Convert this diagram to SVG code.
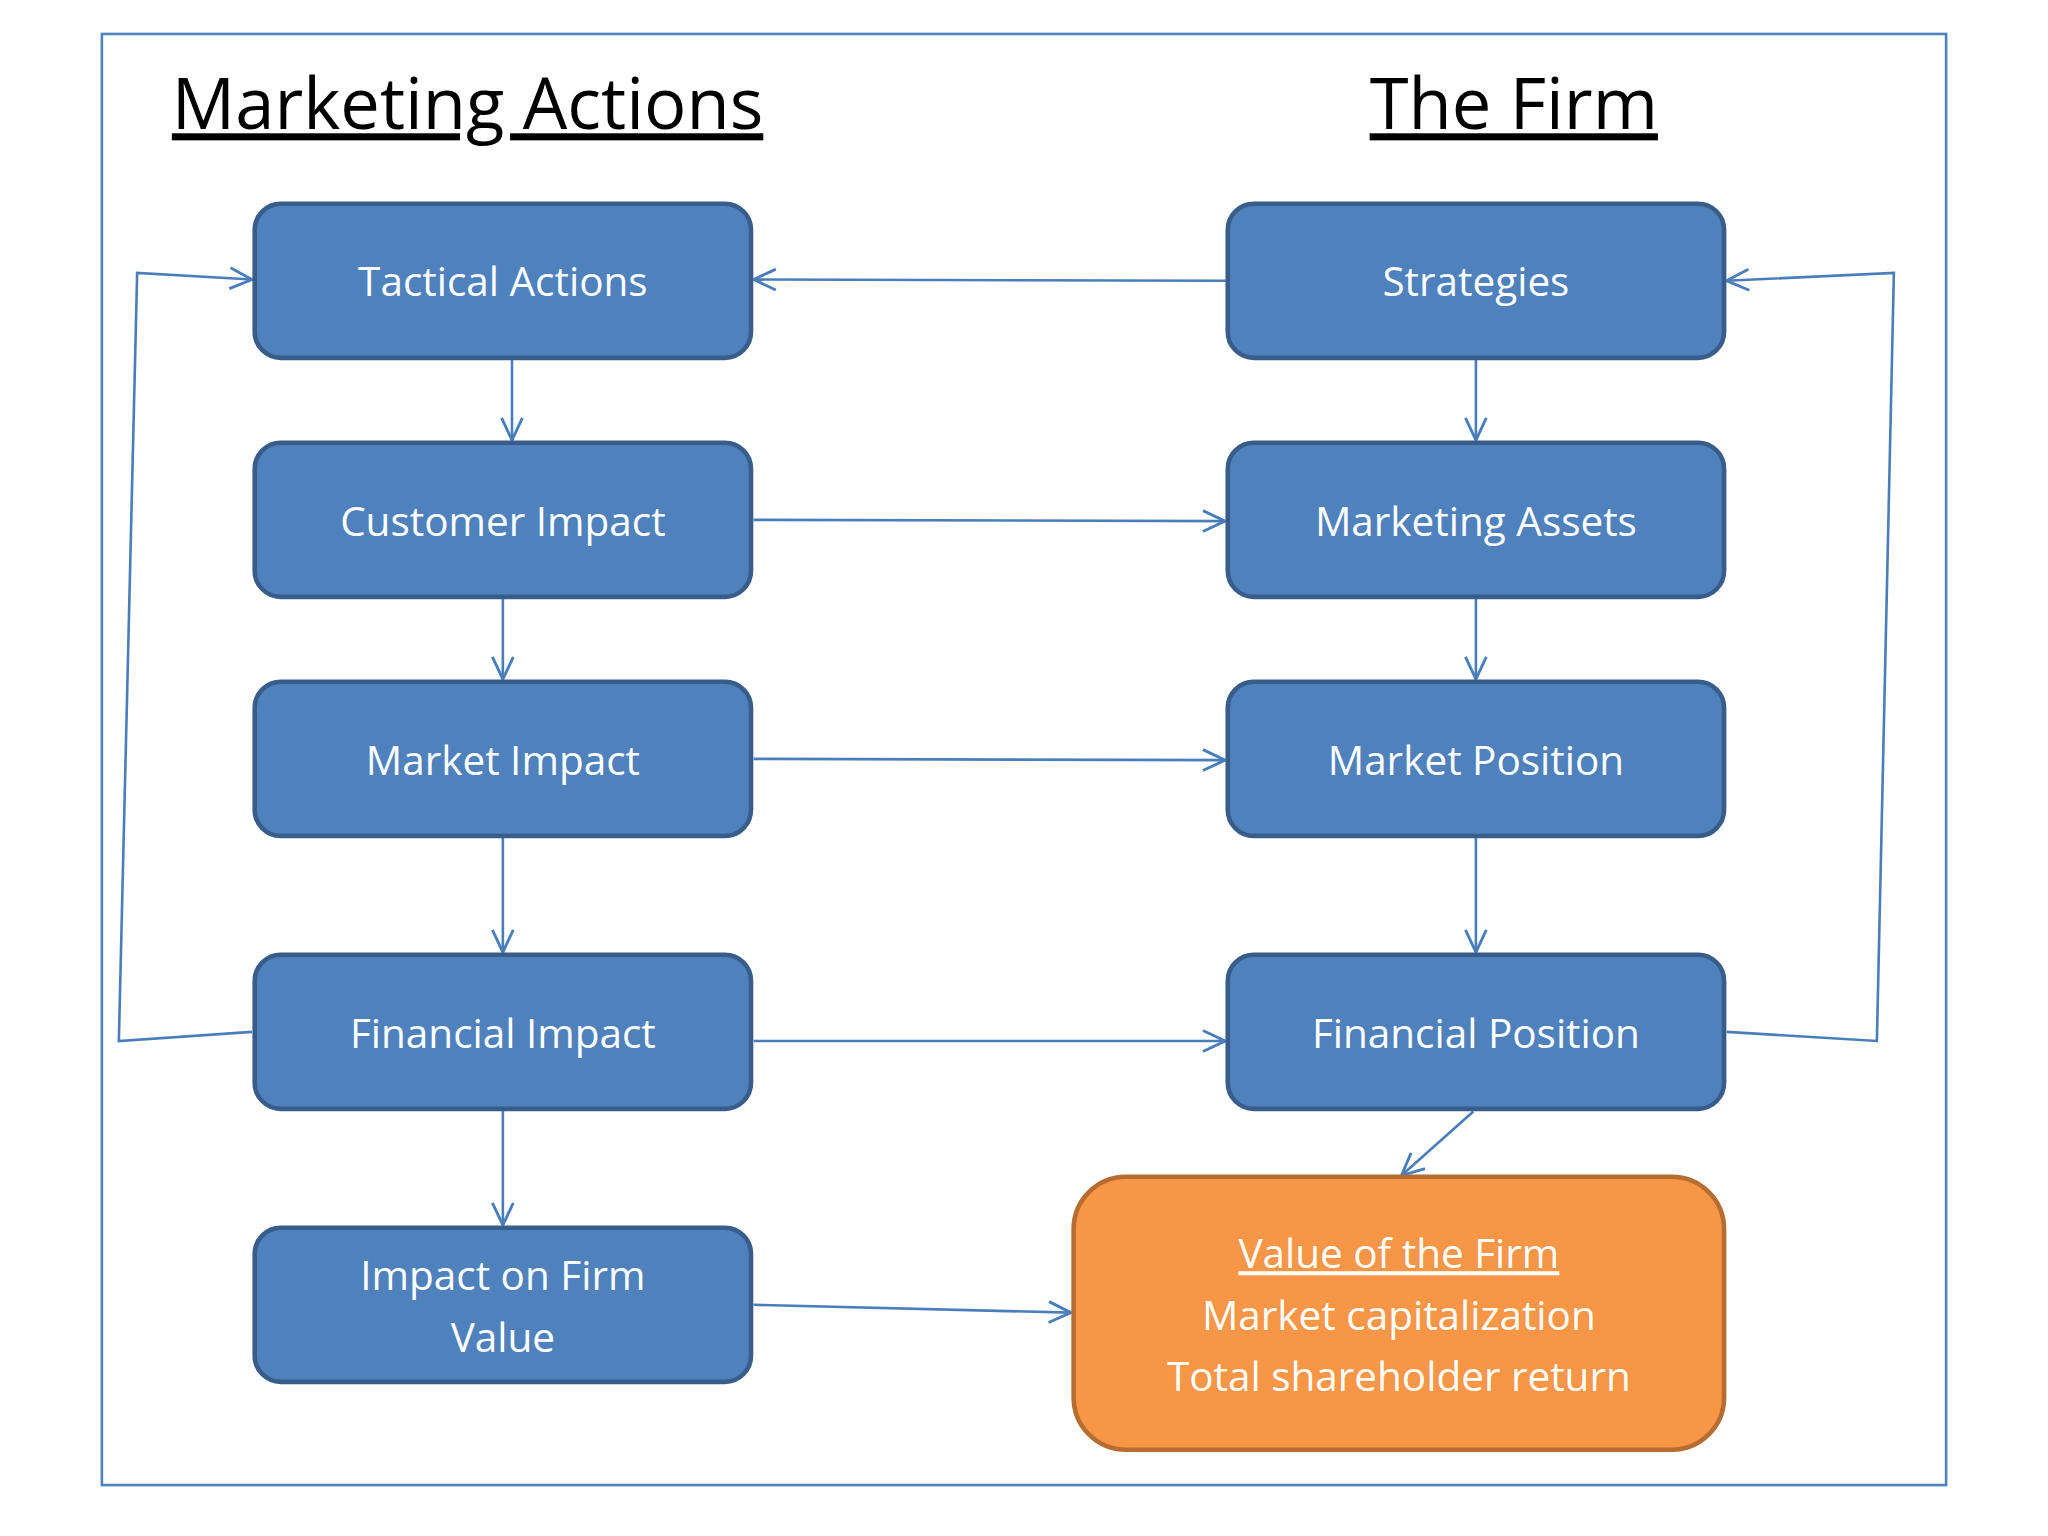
<svg xmlns="http://www.w3.org/2000/svg" width="2048" height="1536" viewBox="0 0 2048 1536">
<defs>
<marker id="ah" viewBox="0 0 20 20" refX="19" refY="10" markerWidth="20" markerHeight="20" markerUnits="userSpaceOnUse" orient="auto">
<path d="M2,2 L19,10 L2,18" fill="none" stroke="#4a7ebb" stroke-width="2.2"/>
</marker>
<style>
.b rect{fill:#4f81bd;stroke:#385d8a;stroke-width:3.5}
.o rect{fill:#f79646;stroke:#b66d31;stroke-width:3.5}
text{font-family:"Open Sans","Liberation Sans",sans-serif;text-anchor:middle}
.t{fill:#fff;font-size:31px}
.h{fill:#000;font-size:54px;text-decoration:underline}
#c path{fill:none;stroke:#4a7ebb;stroke-width:2;marker-end:url(#ah)}
</style>
</defs>
<rect width="2048" height="1536" fill="#fff"/>
<g transform="scale(1.30612)">
<rect x="78" y="26" width="1412" height="1111" fill="none" stroke="#4f81bd" stroke-width="2"/>
<text class="h" x="358" y="99">Marketing Actions</text>
<text class="h" x="1159" y="99">The Firm</text>
<g id="c">
<path d="M940,215 L577,214"/>
<path d="M392,275 L392,337"/>
<path d="M385,458 L385,520"/>
<path d="M385,641 L385,729"/>
<path d="M385,850 L385,938"/>
<path d="M577,398 L938,399"/>
<path d="M577,581 L938,582"/>
<path d="M577,797 L938,797"/>
<path d="M577,999 L820,1005"/>
<path d="M1130,275 L1130,337"/>
<path d="M1130,458 L1130,520"/>
<path d="M1130,641 L1130,729"/>
<path d="M1128,851 L1073,900"/>
<path d="M193,790 L91,797 L105,209 L193,214"/>
<path d="M1322,790 L1437,797 L1450,209 L1322,215"/>
</g>
<g id="tactical" class="b"><rect x="195" y="156" width="380" height="118" rx="20"/><text class="t" x="385" y="227">Tactical Actions</text></g>
<g id="customer" class="b"><rect x="195" y="339" width="380" height="118" rx="20"/><text class="t" x="385" y="410">Customer Impact</text></g>
<g id="marketimpact" class="b"><rect x="195" y="522" width="380" height="118" rx="20"/><text class="t" x="385" y="593">Market Impact</text></g>
<g id="financialimpact" class="b"><rect x="195" y="731" width="380" height="118" rx="20"/><text class="t" x="385" y="802">Financial Impact</text></g>
<g id="impactfirm" class="b"><rect x="195" y="940" width="380" height="118" rx="20"/><text class="t" x="385" y="988">Impact on Firm</text><text class="t" x="385" y="1035">Value</text></g>
<g id="strategies" class="b"><rect x="940" y="156" width="380" height="118" rx="20"/><text class="t" x="1130" y="227">Strategies</text></g>
<g id="assets" class="b"><rect x="940" y="339" width="380" height="118" rx="20"/><text class="t" x="1130" y="410">Marketing Assets</text></g>
<g id="position" class="b"><rect x="940" y="522" width="380" height="118" rx="20"/><text class="t" x="1130" y="593">Market Position</text></g>
<g id="finposition" class="b"><rect x="940" y="731" width="380" height="118" rx="20"/><text class="t" x="1130" y="802">Financial Position</text></g>
<g id="value" class="o"><rect x="822" y="901" width="498" height="209" rx="40"/>
<text class="t" x="1071" y="971" text-decoration="underline">Value of the Firm</text>
<text class="t" x="1071" y="1018">Market capitalization</text>
<text class="t" x="1071" y="1065">Total shareholder return</text></g>
</g>
</svg>
